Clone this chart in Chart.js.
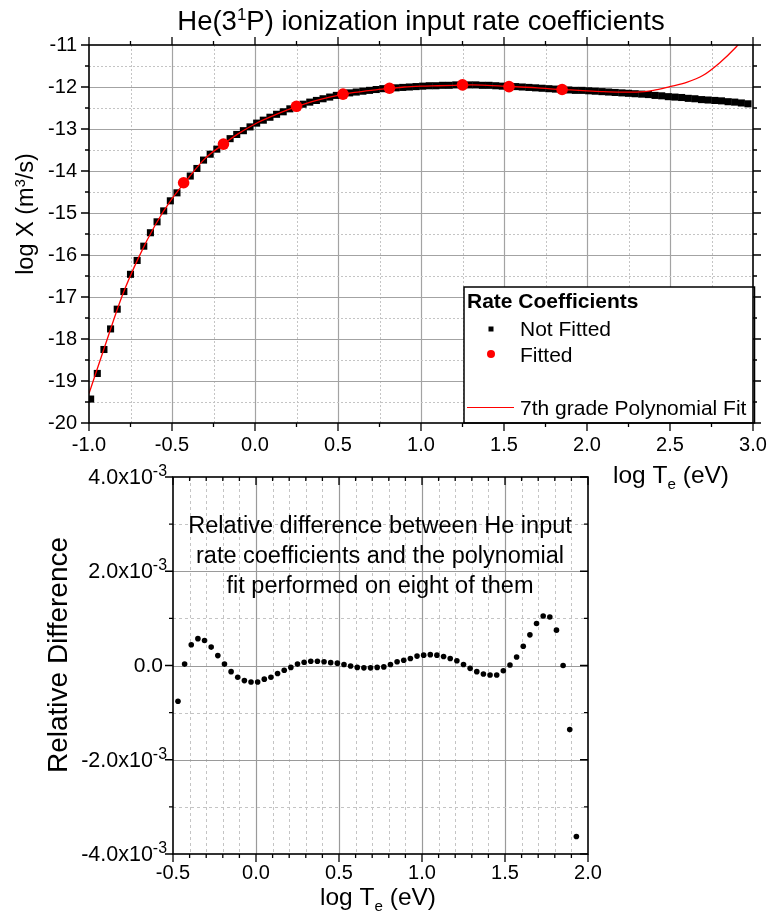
<!DOCTYPE html>
<html><head><meta charset="utf-8">
<script src="https://cdn.jsdelivr.net/npm/chart.js@4.4.1/dist/chart.umd.min.js"></script>
<style>
html,body{margin:0;padding:0;background:#fff;}
#wrap{position:relative;width:768px;height:916px;overflow:hidden;}
canvas{position:absolute;left:0;top:0;}
</style></head><body>
<div id="wrap"><canvas id="topc" width="768" height="916"></canvas><canvas id="botc" width="768" height="916"></canvas></div>
<script>
// ---------- DATA ----------
const rateLogTe = [
 -0.99,-0.95,-0.91,-0.87,-0.83,-0.79,-0.75,-0.71,-0.67,-0.63,
 -0.59,-0.55,-0.51,-0.47,-0.43,-0.39,-0.35,-0.31,-0.27,-0.23,
 -0.19,-0.15,-0.11,-0.07,-0.03,0.01,0.05,0.09,0.13,0.17,
 0.21,0.25,0.29,0.33,0.37,0.41,0.45,0.49,0.53,0.57,
 0.61,0.65,0.69,0.73,0.77,0.81,0.85,0.89,0.93,0.97,
 1.01,1.05,1.09,1.13,1.17,1.21,1.25,1.29,1.33,1.37,
 1.41,1.45,1.49,1.53,1.57,1.61,1.65,1.69,1.73,1.77,
 1.81,1.85,1.89,1.93,1.97,2.01,2.05,2.09,2.13,2.17,
 2.21,2.25,2.29,2.33,2.37,2.41,2.45,2.49,2.53,2.57,
 2.61,2.65,2.69,2.73,2.77,2.81,2.85,2.89,2.93,2.97];
const rateLogX = [
 -19.43,-18.82,-18.25,-17.76,-17.29,-16.87,-16.46,-16.13,-15.79,-15.47,
 -15.21,-14.95,-14.71,-14.52,-14.28,-14.12,-13.94,-13.74,-13.60,-13.48,
 -13.36,-13.23,-13.13,-13.04,-12.95,-12.86,-12.79,-12.72,-12.65,-12.59,
 -12.52,-12.46,-12.41,-12.36,-12.32,-12.28,-12.24,-12.20,-12.17,-12.14,
 -12.12,-12.10,-12.08,-12.06,-12.04,-12.03,-12.02,-12.01,-12.00,-11.99,
 -11.98,-11.97,-11.97,-11.96,-11.96,-11.95,-11.95,-11.95,-11.95,-11.96,
 -11.96,-11.97,-11.98,-11.99,-11.99,-12.00,-12.01,-12.02,-12.03,-12.04,
 -12.05,-12.06,-12.07,-12.08,-12.08,-12.09,-12.10,-12.11,-12.12,-12.13,
 -12.14,-12.15,-12.16,-12.17,-12.18,-12.20,-12.21,-12.23,-12.24,-12.25,
 -12.27,-12.28,-12.30,-12.31,-12.32,-12.33,-12.35,-12.36,-12.38,-12.40];
const fitLogTe = [-0.43,-0.19,0.25,0.53,0.81,1.25,1.53,1.85];
const fitLogX  = [-14.28,-13.36,-12.46,-12.17,-12.03,-11.95,-11.99,-12.06];
const polyLogTe = [
 -1.0,-0.9,-0.8,-0.7,-0.6,-0.5,-0.4,-0.3,-0.2,-0.1,
 0.0,0.1,0.2,0.3,0.4,0.5,0.6,0.7,0.8,0.9,
 1.0,1.1,1.2,1.3,1.4,1.5,1.6,1.7,1.8,1.9,
 2.0,2.1,2.2,2.3,2.4,2.5,2.6,2.7,2.8,2.9,2.92];
const polyLogX = [
 -19.30,-18.12,-16.97,-16.05,-15.28,-14.66,-14.16,-13.70,-13.39,-13.11,
 -12.88,-12.70,-12.54,-12.40,-12.29,-12.20,-12.13,-12.08,-12.04,-12.00,
 -11.98,-11.97,-11.96,-11.95,-11.96,-11.98,-12.00,-12.02,-12.05,-12.07,
 -12.09,-12.11,-12.12,-12.12,-12.08,-11.99,-11.89,-11.72,-11.42,-11.04,-10.95];
const diffLogTe = [
 -0.47,-0.43,-0.39,-0.35,-0.31,-0.27,-0.23,-0.19,-0.15,-0.11,
 -0.07,-0.03,0.01,0.05,0.09,0.13,0.17,0.21,0.25,0.29,
 0.33,0.37,0.41,0.45,0.49,0.53,0.57,0.61,0.65,0.69,
 0.73,0.77,0.81,0.85,0.89,0.93,0.97,1.01,1.05,1.09,
 1.13,1.17,1.21,1.25,1.29,1.33,1.37,1.41,1.45,1.49,
 1.53,1.57,1.61,1.65,1.69,1.73,1.77,1.81,1.85,1.89,1.93];
const diffValues = [
 -0.00076,0.00003,0.00044,0.00057,0.00053,0.00039,0.00021,0.00003,-0.00013,-0.00025,
 -0.00032,-0.00035,-0.00035,-0.00029,-0.00025,-0.00017,-0.00010,-0.00004,0.00003,0.00007,
 0.00009,0.00009,0.00008,0.00006,0.00005,0.00002,-0.00001,-0.00004,-0.00005,-0.00005,
 -0.00004,-0.00003,0.00002,0.00008,0.00011,0.00015,0.00020,0.00022,0.00023,0.00022,
 0.00019,0.00015,0.00010,0.00002,-0.00006,-0.00013,-0.00018,-0.00020,-0.00020,-0.00011,
 0.00001,0.00018,0.00041,0.00065,0.00089,0.00105,0.00103,0.00075,0.00000,-0.00136,-0.00363];
const topXTicks = ['-1.0','-0.5','0.0','0.5','1.0','1.5','2.0','2.5','3.0'];
const botYTickMantissa = ['-4.0','-2.0','0.0','2.0','4.0'];

// ---------- HELPERS ----------
const FONT = '"Liberation Sans", Arial, Helvetica, sans-serif';
const pts = (xs, ys) => xs.map((x, i) => ({x: x, y: ys[i]}));
function isMajor(v, step){ const r = v/step; return Math.abs(r - Math.round(r)) < 1e-6; }

function rich(ctx, segs, x, y, align, size, weight, supScale, supRise) {
  const ss = supScale || 0.62, sr = supRise || 0.36;
  const parts = segs.map(s => {
    const sz = (s.sup || s.sub) ? size * ss : size;
    ctx.font = (weight || 'normal') + ' ' + sz + 'px ' + FONT;
    return {t: s.t, sz: sz, dy: s.sup ? -size * sr : (s.sub ? size * 0.24 : 0), w: ctx.measureText(s.t).width};
  });
  const total = parts.reduce((a, p) => a + p.w, 0);
  let cx = align === 'center' ? x - total / 2 : (align === 'right' ? x - total : x);
  ctx.textAlign = 'left';
  parts.forEach(p => {
    ctx.font = (weight || 'normal') + ' ' + p.sz + 'px ' + FONT;
    ctx.fillText(p.t, cx, y + p.dy);
    cx += p.w;
  });
  return total;
}

function drawGrid(chart, cfg) {
  const {ctx, chartArea: a} = chart;
  const xs = chart.scales.x, ys = chart.scales.y;
  ctx.save();
  xs.ticks.forEach(t => {
    const px = Math.round(xs.getPixelForValue(t.value)) + 0.5;
    if (px <= a.left + 1 || px >= a.right - 1) return;
    const maj = isMajor(t.value, cfg.xMajor);
    ctx.beginPath();
    ctx.setLineDash(maj ? [] : cfg.minorDash);
    ctx.strokeStyle = maj ? cfg.majorColor : cfg.minorColor;
    ctx.lineWidth = maj ? 1.2 : 1;
    ctx.moveTo(px, a.top); ctx.lineTo(px, a.bottom); ctx.stroke();
  });
  ys.ticks.forEach(t => {
    const py = Math.round(ys.getPixelForValue(t.value)) + 0.5;
    if (py <= a.top + 1 || py >= a.bottom - 1) return;
    const maj = isMajor(t.value, cfg.yMajor);
    ctx.beginPath();
    ctx.setLineDash(maj ? [] : cfg.minorDash);
    ctx.strokeStyle = maj ? cfg.majorColor : cfg.minorColor;
    ctx.lineWidth = maj ? 1.2 : 1;
    ctx.moveTo(a.left, py); ctx.lineTo(a.right, py); ctx.stroke();
  });
  ctx.restore();
}

function drawFrame(chart, cfg) {
  const {ctx, chartArea: a} = chart;
  const xs = chart.scales.x, ys = chart.scales.y;
  ctx.save();
  ctx.setLineDash([]);
  ctx.strokeStyle = '#000';
  ctx.lineWidth = 1.6;
  ctx.strokeRect(a.left, a.top, a.right - a.left, a.bottom - a.top);
  ctx.lineWidth = 1.3;
  ctx.beginPath();
  xs.ticks.forEach(t => {
    const px = xs.getPixelForValue(t.value);
    const len = isMajor(t.value, cfg.xMajor) ? 8 : 4;
    ctx.moveTo(px, a.bottom); ctx.lineTo(px, a.bottom + len);
    ctx.moveTo(px, a.top); ctx.lineTo(px, a.top - len * cfg.topDir);
  });
  ys.ticks.forEach(t => {
    const py = ys.getPixelForValue(t.value);
    const len = isMajor(t.value, cfg.yMajor) ? 8 : 4;
    ctx.moveTo(a.left, py); ctx.lineTo(a.left - len, py);
    ctx.moveTo(a.right, py); ctx.lineTo(a.right + len * cfg.rightDir, py);
  });
  ctx.stroke();
  ctx.restore();
}
function zeroPad(s) { s.paddingLeft = 0; s.paddingRight = 0; s.paddingTop = 0; s.paddingBottom = 0; }

// ---------- TOP CHART ----------
const topCfg = {xMajor: 0.5, yMajor: 1, majorColor: '#a3a3a3', minorColor: '#c4c4c4', minorDash: [2, 2], topDir: 1, rightDir: 1};
const topPlugin = {
  id: 'topDeco',
  beforeDatasetsDraw(chart) { drawGrid(chart, topCfg); },
  afterDatasetsDraw(chart) {
    const ctx = chart.ctx, a = chart.chartArea;
    ctx.save();
    const lx = 464, ly = 287, lr = a.right + 1.5, lb = a.bottom;
    ctx.fillStyle = '#fff';
    ctx.fillRect(lx, ly, lr - lx, lb - ly);
    ctx.strokeStyle = '#000'; ctx.lineWidth = 1.5;
    ctx.strokeRect(lx, ly, lr - lx, lb - ly);
    ctx.fillStyle = '#000';
    ctx.textBaseline = 'alphabetic';
    ctx.font = 'bold 21px ' + FONT; ctx.textAlign = 'left';
    ctx.fillText('Rate Coefficients', 467, 308);
    ctx.font = '21px ' + FONT;
    ctx.fillText('Not Fitted', 520, 336);
    ctx.fillRect(488.5, 326.5, 5, 5);
    ctx.fillText('Fitted', 520, 362);
    ctx.fillStyle = '#ff0000';
    ctx.beginPath(); ctx.arc(491, 354, 4, 0, Math.PI * 2); ctx.fill();
    ctx.fillStyle = '#000';
    ctx.fillText('7th grade Polynomial Fit', 520, 415);
    ctx.strokeStyle = '#ff0000'; ctx.lineWidth = 1.2;
    ctx.beginPath(); ctx.moveTo(467, 407.5); ctx.lineTo(514, 407.5); ctx.stroke();
    ctx.restore();
    drawFrame(chart, topCfg);
  },
  afterDraw(chart) {
    const ctx = chart.ctx;
    ctx.save();
    ctx.fillStyle = '#000';
    ctx.textBaseline = 'alphabetic';
    rich(ctx, [{t: 'He(3'}, {t: '1', sup: true}, {t: 'P) ionization input rate coefficients'}], 421, 30, 'center', 27.5);
    rich(ctx, [{t: 'log T'}, {t: 'e', sub: true}, {t: ' (eV)'}], 613, 483, 'left', 24.5);
    ctx.translate(33, 214);
    ctx.rotate(-Math.PI / 2);
    rich(ctx, [{t: 'log X (m'}, {t: '3', sup: true}, {t: '/s)'}], 0, 0, 'center', 23.5);
    ctx.restore();
  }
};

new Chart(document.getElementById('topc'), {
  type: 'scatter',
  data: {
    datasets: [
      {label: 'Fitted', data: pts(fitLogTe, fitLogX), pointStyle: 'circle', pointRadius: 5.8,
       backgroundColor: '#ff0000', borderColor: '#ff0000', borderWidth: 0, order: 0},
      {label: '7th grade Polynomial Fit', data: pts(polyLogTe, polyLogX), showLine: true, pointRadius: 0,
       borderColor: '#ff0000', borderWidth: 1.3, cubicInterpolationMode: 'monotone', fill: false, order: 1},
      {label: 'Not Fitted', data: pts(rateLogTe, rateLogX), pointStyle: 'rect', pointRadius: 5,
       backgroundColor: '#000', borderColor: '#000', borderWidth: 0, order: 2}
    ]
  },
  options: {
    responsive: false, animation: false, devicePixelRatio: 1,
    layout: {padding: {left: 0, top: 45, right: 15, bottom: 463}, autoPadding: false},
    plugins: {legend: {display: false}, tooltip: {enabled: false}, title: {display: false}},
    scales: {
      x: {type: 'linear', min: -1, max: 3,
          grid: {display: false, drawTicks: false}, border: {display: false},
          ticks: {stepSize: 0.25, autoSkip: false, maxRotation: 0, color: '#000', padding: 10,
                  font: {family: FONT, size: 20},
                  callback: (v) => isMajor(v, 0.5) ? topXTicks[Math.round((v + 1) / 0.5)] : ''},
          afterFit: (s) => { s.height = 30; zeroPad(s); }},
      y: {type: 'linear', min: -20, max: -11,
          grid: {display: false, drawTicks: false}, border: {display: false},
          ticks: {stepSize: 0.5, autoSkip: false, color: '#000', padding: 12,
                  font: {family: FONT, size: 20},
                  callback: (v) => isMajor(v, 1) ? String(Math.round(v)) : ''},
          afterFit: (s) => { s.width = 89; zeroPad(s); }}
    }
  },
  plugins: [topPlugin]
});

// ---------- BOTTOM CHART ----------
const botCfg = {xMajor: 0.5, yMajor: 0.002, majorColor: '#9a9a9a', minorColor: '#c4c4c4', minorDash: [3, 3], topDir: -1, rightDir: -1};
const botPlugin = {
  id: 'botDeco',
  beforeDatasetsDraw(chart) { drawGrid(chart, botCfg); },
  afterDatasetsDraw(chart) { drawFrame(chart, botCfg); },
  afterDraw(chart) {
    const ctx = chart.ctx, ys = chart.scales.y;
    ctx.save();
    ctx.fillStyle = '#000';
    ctx.textBaseline = 'middle';
    [-0.004, -0.002, 0, 0.002, 0.004].forEach((v, i) => {
      const py = ys.getPixelForValue(v) + 1;
      if (v === 0) {
        rich(ctx, [{t: botYTickMantissa[i]}], 163, py, 'right', 21);
      } else {
        rich(ctx, [{t: botYTickMantissa[i] + 'x10'}, {t: '-3', sup: true}], 167, py, 'right', 21.5, 'normal', 0.74, 0.3);
      }
    });
    ctx.textBaseline = 'alphabetic';
    ctx.font = '23.5px ' + FONT; ctx.textAlign = 'center';
    ctx.fillText('Relative difference between He input', 380, 533);
    ctx.fillText('rate coefficients and the polynomial', 380, 563);
    ctx.fillText('fit performed on eight of them', 380, 593);
    rich(ctx, [{t: 'log T'}, {t: 'e', sub: true}, {t: ' (eV)'}], 320, 905, 'left', 24.5);
    ctx.translate(67, 655);
    ctx.rotate(-Math.PI / 2);
    rich(ctx, [{t: 'Relative Difference'}], 0, 0, 'center', 28);
    ctx.restore();
  }
};

new Chart(document.getElementById('botc'), {
  type: 'scatter',
  data: {
    datasets: [
      {label: 'Relative Difference', data: pts(diffLogTe, diffValues), pointStyle: 'circle', pointRadius: 2.8,
       backgroundColor: '#000', borderColor: '#000', borderWidth: 0}
    ]
  },
  options: {
    responsive: false, animation: false, devicePixelRatio: 1,
    layout: {padding: {left: 0, top: 477, right: 180, bottom: 32}, autoPadding: false},
    plugins: {legend: {display: false}, tooltip: {enabled: false}, title: {display: false}},
    scales: {
      x: {type: 'linear', min: -0.5, max: 2.0,
          grid: {display: false, drawTicks: false}, border: {display: false},
          ticks: {stepSize: 0.1, autoSkip: false, maxRotation: 0, color: '#000', padding: 7,
                  font: {family: FONT, size: 20},
                  callback: (v) => isMajor(v, 0.5) ? (Math.round(v * 10) / 10).toFixed(1) : ''},
          afterFit: (s) => { s.height = 30; zeroPad(s); }},
      y: {type: 'linear', min: -0.004, max: 0.004,
          grid: {display: false, drawTicks: false}, border: {display: false},
          ticks: {stepSize: 0.001, autoSkip: false, display: true, callback: () => ''},
          afterFit: (s) => { s.width = 173; zeroPad(s); }}
    }
  },
  plugins: [botPlugin]
});
</script>
</body></html>
